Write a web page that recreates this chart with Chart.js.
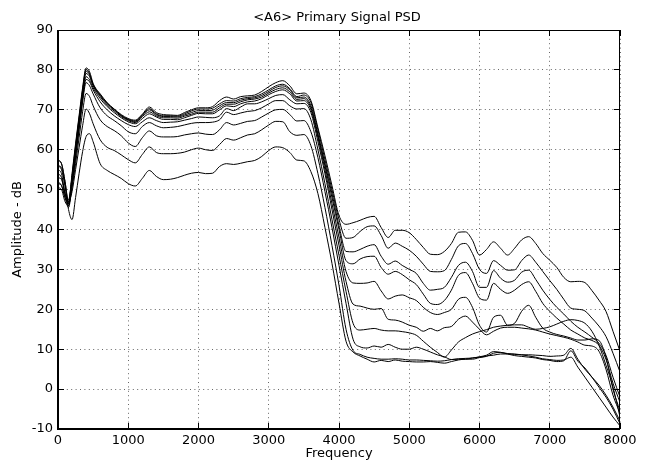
<!DOCTYPE html>
<html>
<head>
<meta charset="utf-8">
<script src="https://cdn.jsdelivr.net/npm/chart.js@4.4.1/dist/chart.umd.min.js"></script>
<style>
html,body{margin:0;padding:0;background:#fff;}
canvas{display:block;}
</style>
</head>
<body>
<canvas id="c" width="646" height="462"></canvas>
<script>
// ---- data ----
const frequency = [0,50,100,150,200,250,300,350,400,450,500,
  600,700,800,900,1000,
  1100,1200,1300,1400,1500,1600,1700,1800,1900,2000,
  2100,2200,2300,2400,2500,2600,2700,2800,2900,3000,
  3100,3200,3300,3400,3500,3600,3700,3800,3900,4000,
  4100,4200,4300,4400,4500,4600,4700,4800,4900,5000,
  5100,5200,5300,5400,5500,5600,5700,5800,5900,6000,
  6100,6200,6300,6400,6500,6600,6700,6800,6900,7000,
  7100,7200,7300,7400,7500,7600,7700,7800,7900,8000];

const psd1 = [55,54,49,47,54,61.5,68.5,75.5,80.5,79.5,76.6,
  74,71.8,70.2,68.8,67.8,
  67.4,68.9,70.7,69.3,68.8,68.7,68.6,69.3,70,70.5,
  70.5,70.8,72.3,73.2,72.7,73.3,73.5,73.7,74.6,75.8,
  76.8,77.3,76,74,74.2,72.3,65.5,58.5,51,43.5,
  41.3,41.7,42.3,43,43.3,40.5,38,39.8,39.8,39.2,
  37.5,35.5,33.8,33.7,34.5,36.5,39.3,39.4,37.3,33.6,
  35,36.9,35.3,33.6,35.3,37.4,38.2,36.5,34,32.3,
  30.5,28,26.9,27,26.7,24.7,22.3,19.5,14.5,9.5];

const psd2 = [57.3,56.5,52,46.5,53.5,61,68,75,80.1,79,76.4,
  73.8,71.6,70.1,68.6,67.6,
  67.2,68.7,70.3,69,68.5,68.5,68.4,69,69.7,70.2,
  70.2,70.4,71.5,72.3,72.2,72.8,73.1,73.3,74,75,
  76,76.4,75.3,73.3,73.7,71.8,65,57.5,50,42.5,
  37.8,38,39.5,40.7,40.9,38.5,35.3,36.6,35.8,34.8,
  33.3,31.3,29.5,29.4,29.7,32.5,35.9,36.5,34,30,
  29,32.2,31,29.8,29.9,32.2,33.6,31.8,29.5,27.2,
  25,22.5,20.3,20,19.6,17.8,15.8,13.2,9,4.3];

const psd3 = [52,51,48,46.5,53,60.5,67.5,74.5,79.7,78.7,76.2,
  73.6,71.5,70,68.5,67.5,
  67,68.6,70,68.8,68.3,68.3,68.2,68.7,69.3,69.8,
  69.8,69.9,71,71.8,71.8,72.4,72.8,73,73.6,74.6,
  75.6,76,75,73,73.2,71,64,56.5,49,41,
  34.5,34.4,35,35.8,36.2,33.3,31.3,32.1,31,30,
  29,26.5,24.8,25,25.5,28,31,31.8,29.5,25.5,
  25.5,29.7,27.8,26.8,27.3,29.3,29.8,27.5,24.8,22.5,
  20.5,18.8,17,15.5,14.3,13,11.5,8.5,3,-2];

const psd4 = [54,53,49,47.5,53,60,67,74,79.1,78.3,76,
  73.3,71.2,69.7,68.3,67.3,
  66.8,68.3,69.5,68.5,68,68,67.9,68.4,68.9,69.4,
  69.4,69.4,70.5,71.4,71.4,72,72.5,72.7,73.2,74.2,
  75.1,75.5,74.5,72.6,72.8,70.5,63.5,56,48,40,
  32.2,31.4,32.6,33.2,33.3,30.5,28.8,29.5,28.7,27.4,
  26.2,23.8,21.5,21.2,22.2,24.8,28.5,29.2,26.5,22.8,
  22.3,26.5,25,24,24.8,26.2,26.9,24.5,21.5,19.5,
  17.8,16.3,14.8,13.8,12.8,12.2,11,7.5,1.5,-3.3];

const psd5 = [50.5,50,47,46,52,59,66,73,78.3,77.5,75.5,
  72.8,70.8,69.3,68,67,
  66.5,67.8,69,68.2,67.6,67.6,67.5,68,68.6,69.1,
  69,69,70,71,70.8,71.5,72,72.2,72.8,73.8,
  74.6,75,74,72.2,72.3,70,63,55,46.5,38,
  29.5,26.6,26.5,26.6,27,24.6,22.6,23.3,23.6,22.9,
  22.2,20.5,19.2,18.7,19.2,20,22.5,23,20.5,16,
  14.3,18,18.5,16,16.5,19.5,21,18,15.3,14.3,
  13.7,13.3,12.8,12.3,12.3,12.6,12.2,8,0,-5.4];

const psd6 = [53,52.5,49,46,51.5,58.5,65.5,72.5,77.6,77,75,
  72,70,68.5,67.3,66.3,
  65.8,67,68,67.3,66.8,66.9,67,67.4,67.8,68.2,
  68.1,68,68.5,70.3,69.8,70.7,71.5,71.5,72,72.8,
  73.6,73.8,72.5,71.5,71.6,69.3,62,54,45,36,
  27,21.3,20.8,20.3,20,20.2,17.5,17.3,16.8,16,
  15.5,14.5,15.2,14.6,15.4,15.7,17.5,18.3,16.8,15,
  13.6,14.5,15.3,15.5,15.5,15.3,15.1,14.8,14.3,13.8,
  13.4,13,12.5,11.8,11,10.8,9.5,5,-1.5,-6];

const psd7 = [51.5,51,48,45.5,51,58,65,72,76.8,76,74,
  70.5,68.5,67.3,66,64.5,
  64,65.8,66.8,66,65.5,65.6,65.8,66.2,66.6,66.8,
  66.8,66.9,67.5,69.4,68.8,69.2,69.6,69.8,70.5,71.5,
  72.3,72.3,71,70.2,70.3,67.5,60,51.5,42.5,33.5,
  24.5,16.5,14.8,15,15.2,14.8,14.6,14.6,14.4,14.1,
  13.5,12,10.5,9.2,8,9.8,11.8,12.9,13.8,14.4,
  14.9,15.5,15.8,16,16.1,16.1,15.5,15,15.2,15.6,
  16.3,17,17.4,17.2,16.5,14.5,11,6,0.5,-7];

const psd8 = [56,55.5,51,46.5,50.5,56.5,63,69.5,74.1,73.3,71,
  67.5,65.8,64.8,63.5,61.7,
  60.8,63,64.7,63.5,63.2,63.2,63.3,63.7,64,64.2,
  63.9,63.8,65,66.8,66.2,66.6,67.1,67.3,68.2,69.2,
  70,70.1,68.8,67.2,67.3,64.5,58,49.5,40.5,31,
  21.5,12.5,10.6,10.3,10.8,10.5,11.2,10.5,10,10,
  10.5,10,9.3,8.6,8.1,7.4,7.5,7.5,7.8,8,
  8.3,8.5,8.8,8.8,8.7,8.6,8.6,8.5,8.4,8.2,
  8.3,8.5,10.2,7.5,5,3,1,-1.5,-4.5,-8];

const psd9 = [57.5,56.5,52,47,49.5,55,60.5,66,70.2,69,66.5,
  62.5,60.6,59.8,58.7,57.5,
  56.7,58.8,60.7,59.3,59,59,59.1,59.4,60,60.4,
  60,59.8,61.3,62.8,62.4,63,63.7,64,65,66.2,
  67.1,67,64.5,63.6,63.8,61,54,45.5,36,26,
  15,9.7,8.7,8,7.7,7.5,7.5,7.6,7.5,7.3,
  7.3,7.2,7.1,7,7.1,7.4,7.6,7.7,7.8,8.1,
  8.5,9.4,9.2,8.8,8.4,8.2,8,7.8,7.4,7.2,
  6.9,7.1,9.6,7,5.3,3,0.5,-2,-5,-8.7];

const psd10 = [56,55,51,45,42.5,48,54,59.5,63.3,64,62,
  56.5,54.8,53.8,52.8,51.5,
  50.9,52.8,54.8,53.3,52.5,52.6,53,53.6,54.1,54.3,
  54,54.1,55.8,56.5,56.3,56.6,57,57.3,58.3,59.8,
  60.7,60.5,59.3,57.4,57.2,54.5,49,40.5,31.5,21.5,
  12,9.3,8.3,7.5,6.8,7.2,6.9,7.3,7,6.9,
  6.8,6.8,6.9,6.7,6.5,6.9,7.3,7.5,7.5,7.9,
  8.2,9,9.2,8.9,8.8,8.6,8.3,8,7.6,7.4,
  7.2,7.3,8,5.5,3,0.5,-2,-4.5,-7,-9.2];

const xTicks = [0,1000,2000,3000,4000,5000,6000,7000,8000];
const yTicks = [-10,0,10,20,30,40,50,60,70,80,90];
const chartTitle = '<A6> Primary Signal PSD';
const xLabel = 'Frequency';
const yLabel = 'Amplitude - dB';

// ---- chart ----
const FONT = 'DejaVu Sans';
Chart.defaults.font.family = FONT;
Chart.defaults.font.size = 13;
Chart.defaults.color = '#000';

const series = [psd1,psd2,psd3,psd4,psd5,psd6,psd7,psd8,psd9,psd10];

const framePlugin = {
  id: 'frame',
  afterDraw(chart) {
    const {ctx, chartArea: a, scales} = chart;
    const x = scales.x, y = scales.y;
    ctx.save();
    ctx.fillStyle = '#000';
    // inward tick marks on all four sides
    xTicks.forEach(v => {
      const px = Math.round(x.getPixelForValue(v) - 0.5);
      ctx.fillRect(px, a.bottom - 6, 1, 6);
      ctx.fillRect(px, a.top, 1, 6);
    });
    yTicks.forEach(v => {
      const py = Math.round(y.getPixelForValue(v) - 0.5);
      ctx.fillRect(a.left, py, 6, 1);
      ctx.fillRect(a.right - 6, py, 6, 1);
    });
    // axes box
    ctx.fillRect(a.left - 1, a.top, 2, a.bottom - a.top);
    ctx.fillRect(a.left - 1, a.bottom - 1, a.right - a.left + 1, 2);
    ctx.fillRect(a.left - 1, a.top, a.right - a.left + 1, 1);
    ctx.fillRect(a.right - 1, a.top, 1, a.bottom - a.top);
    // title
    ctx.font = '13px "' + FONT + '"';
    ctx.textAlign = 'center';
    ctx.textBaseline = 'alphabetic';
    ctx.fillText(chartTitle, (a.left + a.right) / 2 - 2, 21);
    ctx.restore();
  }
};

new Chart(document.getElementById('c'), {
  type: 'line',
  data: {
    datasets: series.map(s => ({
      data: frequency.map((f, i) => ({x: f, y: s[i]})),
      borderColor: '#000',
      borderWidth: 1,
      pointRadius: 0,
      fill: false,
      cubicInterpolationMode: 'monotone'
    }))
  },
  options: {
    responsive: false,
    animation: false,
    devicePixelRatio: 1,
    events: [],
    layout: {padding: {top: 30, right: 26, left: 0, bottom: 0}},
    plugins: {legend: {display: false}, tooltip: {enabled: false}, title: {display: false}},
    scales: {
      x: {
        type: 'linear',
        min: xTicks[0],
        max: xTicks[xTicks.length - 1],
        afterFit: s => { s.height = 33; },
        ticks: {stepSize: 1000, padding: 4, maxRotation: 0, autoSkip: false,
                callback: v => String(v), font: {size: 13}},
        grid: {color: '#666', lineWidth: 1, drawTicks: false},
        border: {display: false, dash: [1, 3.4]},
        title: {display: true, text: xLabel, font: {size: 13}, padding: {top: 0, bottom: 1}}
      },
      y: {
        type: 'linear',
        min: yTicks[0],
        max: yTicks[yTicks.length - 1],
        afterFit: s => { s.width = 58; },
        ticks: {stepSize: 10, padding: 5, autoSkip: false,
                callback: v => String(v), font: {size: 13}},
        grid: {color: '#666', lineWidth: 1, drawTicks: false},
        border: {display: false, dash: [1, 3.4]},
        title: {display: true, text: yLabel, font: {size: 13}, padding: {top: 10, bottom: 0}}
      }
    }
  },
  plugins: [framePlugin]
});
</script>
</body>
</html>
